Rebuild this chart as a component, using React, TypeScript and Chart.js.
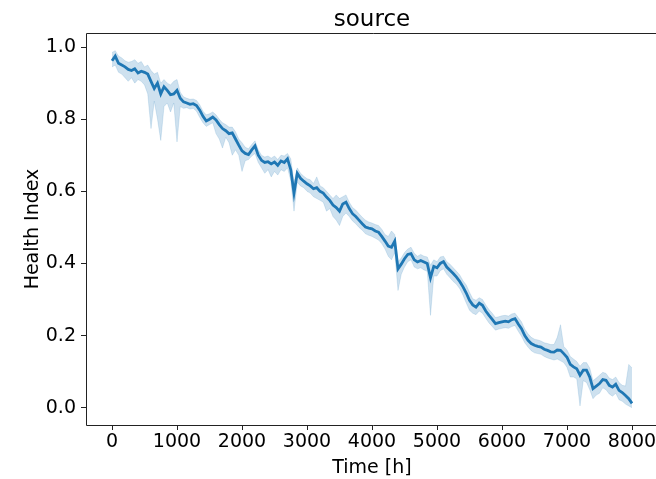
import React, { useEffect, useRef } from "react";
import { Chart, registerables } from "chart.js";

Chart.register(...registerables);

const TITLE = "source";
const X_LABEL = "Time [h]";
const Y_LABEL = "Health Index";

const X_TICKS = [0, 1000, 2000, 3000, 4000, 5000, 6000, 7000, 8000];
const Y_TICKS = [0.0, 0.2, 0.4, 0.6, 0.8, 1.0];

const TIME = [
  0, 50, 100, 150, 200, 250, 300, 350, 400, 450, 500, 550, 600, 650, 700, 750, 800, 850, 900, 950,
  1000, 1050, 1100, 1150, 1200, 1250, 1300, 1350, 1400, 1450, 1500, 1550, 1600, 1650, 1700, 1750, 1800, 1850, 1900, 1950,
  2000, 2050, 2100, 2150, 2200, 2250, 2300, 2350, 2400, 2450, 2500, 2550, 2600, 2650, 2700, 2750, 2800, 2850, 2900, 2950,
  3000, 3050, 3100, 3150, 3200, 3250, 3300, 3350, 3400, 3450, 3500, 3550, 3600, 3650, 3700, 3750, 3800, 3850, 3900, 3950,
  4000, 4050, 4100, 4150, 4200, 4250, 4300, 4350, 4400, 4450, 4500, 4550, 4600, 4650, 4700, 4750, 4800, 4850, 4900, 4950,
  5000, 5050, 5100, 5150, 5200, 5250, 5300, 5350, 5400, 5450, 5500, 5550, 5600, 5650, 5700, 5750, 5800, 5850, 5900, 5950,
  6000, 6050, 6100, 6150, 6200, 6250, 6300, 6350, 6400, 6450, 6500, 6550, 6600, 6650, 6700, 6750, 6800, 6850, 6900, 6950,
  7000, 7050, 7100, 7150, 7200, 7250, 7300, 7350, 7400, 7450, 7500, 7550, 7600, 7650, 7700, 7750, 7800, 7850, 7900, 7950,
  8000,
];

const MEAN = [
  0.962, 0.975, 0.955, 0.95, 0.945, 0.938, 0.935, 0.94, 0.928, 0.933, 0.93, 0.925, 0.905, 0.885, 0.9, 0.87, 0.89, 0.88, 0.868, 0.87,
  0.88, 0.858, 0.848, 0.845, 0.841, 0.843, 0.838, 0.825, 0.808, 0.795, 0.8, 0.806, 0.798, 0.785, 0.774, 0.768, 0.76, 0.762, 0.745, 0.728,
  0.712, 0.705, 0.702, 0.715, 0.726, 0.7, 0.686, 0.68, 0.682, 0.676, 0.681, 0.672, 0.684, 0.68, 0.69, 0.66, 0.595, 0.65, 0.636, 0.628,
  0.621, 0.615, 0.607, 0.61, 0.6, 0.595, 0.584, 0.575, 0.562, 0.555, 0.545, 0.565, 0.57, 0.552, 0.538, 0.53, 0.52, 0.51, 0.501, 0.498,
  0.496, 0.49, 0.487, 0.475, 0.462, 0.448, 0.445, 0.462, 0.385, 0.398, 0.413, 0.425, 0.427, 0.41, 0.404, 0.408, 0.404, 0.4, 0.36, 0.392,
  0.388, 0.4, 0.405, 0.39, 0.381, 0.372, 0.362, 0.35, 0.335, 0.318, 0.298, 0.285, 0.279, 0.29, 0.284, 0.268, 0.256, 0.245, 0.233, 0.236,
  0.238, 0.24, 0.238, 0.244, 0.247, 0.232, 0.219, 0.2, 0.187, 0.178, 0.173, 0.17, 0.168, 0.162, 0.159, 0.155, 0.154, 0.16, 0.159, 0.15,
  0.14, 0.12, 0.113, 0.108, 0.09, 0.104, 0.104, 0.085, 0.053, 0.06, 0.067, 0.078, 0.076, 0.062, 0.057, 0.065, 0.048, 0.042, 0.034, 0.025,
  0.012,
];

const LOWER = [
  0.945, 0.95, 0.93, 0.925, 0.915, 0.905, 0.915, 0.9, 0.91, 0.905, 0.895, 0.87, 0.774, 0.85, 0.8, 0.741, 0.835, 0.845, 0.82, 0.845,
  0.737, 0.835, 0.83, 0.832, 0.828, 0.83, 0.822, 0.805, 0.79, 0.78, 0.785, 0.79, 0.76, 0.745, 0.72, 0.75, 0.735, 0.7, 0.715, 0.7,
  0.655, 0.685, 0.688, 0.698, 0.705, 0.68, 0.665, 0.65, 0.66, 0.64, 0.655, 0.645, 0.66, 0.655, 0.665, 0.63, 0.545, 0.625, 0.615, 0.61,
  0.6, 0.595, 0.585, 0.58, 0.575, 0.57, 0.545, 0.552, 0.53, 0.52, 0.505, 0.53, 0.54, 0.53, 0.518, 0.51, 0.5, 0.492, 0.482, 0.478,
  0.475, 0.47, 0.465, 0.455, 0.44, 0.42, 0.41, 0.43, 0.325, 0.37, 0.39, 0.405, 0.41, 0.39, 0.385, 0.388, 0.382, 0.378, 0.256, 0.365,
  0.365, 0.38, 0.385, 0.37, 0.36, 0.35, 0.342, 0.33, 0.312, 0.29, 0.27, 0.262, 0.258, 0.268, 0.262, 0.248, 0.235, 0.225, 0.215, 0.218,
  0.22, 0.222, 0.22, 0.225, 0.228, 0.212, 0.198, 0.18, 0.168, 0.158, 0.152, 0.15, 0.148, 0.142, 0.138, 0.135, 0.132, 0.135, 0.13, 0.125,
  0.112, 0.085, 0.085, 0.08, 0.005, 0.075, 0.07, 0.05, 0.025, 0.035, 0.04, 0.055, 0.05, 0.038, 0.032, 0.04, 0.022, 0.018, 0.01, 0.005,
  0.0,
];

const UPPER = [
  0.985, 0.99, 0.975, 0.97, 0.962, 0.958, 0.96, 0.965, 0.955, 0.96, 0.945, 0.95, 0.935, 0.925, 0.93, 0.9, 0.91, 0.9, 0.895, 0.905,
  0.91, 0.875, 0.862, 0.858, 0.855, 0.856, 0.852, 0.84, 0.822, 0.812, 0.815, 0.82, 0.812, 0.8, 0.79, 0.785, 0.778, 0.778, 0.765, 0.745,
  0.735, 0.722, 0.718, 0.73, 0.74, 0.715, 0.7, 0.695, 0.698, 0.692, 0.698, 0.688, 0.7, 0.698, 0.705, 0.69, 0.625, 0.665, 0.65, 0.642,
  0.635, 0.632, 0.622, 0.64, 0.615, 0.61, 0.6, 0.59, 0.58, 0.59, 0.58, 0.585, 0.59, 0.57, 0.555, 0.548, 0.538, 0.528, 0.52, 0.515,
  0.512, 0.508, 0.505, 0.495, 0.48, 0.475, 0.49, 0.48, 0.405, 0.415, 0.43, 0.44, 0.445, 0.428, 0.42, 0.425, 0.42, 0.418, 0.395, 0.41,
  0.405, 0.418, 0.42, 0.405, 0.398, 0.388, 0.378, 0.368, 0.352, 0.34, 0.32, 0.302, 0.298, 0.305, 0.3, 0.285, 0.272, 0.262, 0.25, 0.252,
  0.255, 0.256, 0.254, 0.26, 0.262, 0.25, 0.238, 0.218, 0.205, 0.195, 0.19, 0.188, 0.185, 0.18, 0.178, 0.175, 0.175, 0.195, 0.23, 0.17,
  0.16, 0.142, 0.135, 0.128, 0.115, 0.125, 0.125, 0.11, 0.075, 0.082, 0.09, 0.098, 0.095, 0.082, 0.078, 0.085, 0.07, 0.062, 0.06, 0.12,
  0.11,
];

const FONT = "'DejaVu Sans', sans-serif";
const BLUE = "#1f77b4";

const textPlugin = {
  id: "mplTexts",
  afterDraw(chart: any) {
    const { ctx, chartArea, width } = chart;
    const cx = (chartArea.left + chartArea.right) / 2;
    const cy = (chartArea.top + chartArea.bottom) / 2;
    const l = Math.round(chartArea.left) + 0.5;
    const t = Math.round(chartArea.top) + 0.5;
    const b = Math.round(chartArea.bottom) + 0.5;
    ctx.save();
    // frame: left, top, bottom (right spine lies beyond the visible picture)
    ctx.strokeStyle = "#222";
    ctx.lineWidth = 1;
    ctx.beginPath();
    ctx.moveTo(width, t);
    ctx.lineTo(l, t);
    ctx.lineTo(l, b);
    ctx.lineTo(width, b);
    ctx.stroke();
    ctx.fillStyle = "#000";
    ctx.textAlign = "center";
    ctx.textBaseline = "alphabetic";
    ctx.font = `23px ${FONT}`;
    ctx.fillText(TITLE, cx, 26);
    ctx.font = `19px ${FONT}`;
    ctx.fillText(X_LABEL, cx, 473);
    ctx.translate(37.5, cy);
    ctx.rotate(-Math.PI / 2);
    ctx.fillText(Y_LABEL, 0, 0);
    ctx.restore();
  },
};

export default function App() {
  const ref = useRef<HTMLCanvasElement | null>(null);

  useEffect(() => {
    if (!ref.current) return;
    const pts = (ys: number[]) => TIME.map((t, i) => ({ x: t, y: ys[i] }));
    const chart = new Chart(ref.current, {
      type: "line",
      data: {
        datasets: [
          {
            label: "lower",
            data: pts(LOWER),
            borderColor: "rgba(31,119,180,0.15)",
            borderWidth: 1,
            pointRadius: 0,
            fill: false,
            order: 2,
          },
          {
            label: "upper",
            data: pts(UPPER),
            borderColor: "rgba(31,119,180,0.15)",
            borderWidth: 1,
            pointRadius: 0,
            fill: "-1",
            backgroundColor: "rgba(31,119,180,0.22)",
            order: 1,
          },
          {
            label: "mean",
            data: pts(MEAN),
            borderColor: BLUE,
            borderWidth: 2.8,
            pointRadius: 0,
            fill: false,
            order: 0,
          },
        ],
      },
      options: {
        responsive: false,
        animation: false,
        devicePixelRatio: 1,
        layout: { padding: { left: 0, right: 2, top: 33, bottom: 0 } },
        plugins: {
          legend: { display: false },
          title: { display: false },
          tooltip: { enabled: false },
        },
        scales: {
          x: {
            type: "linear",
            min: -400,
            max: 8400,
            afterBuildTicks: (s: any) => {
              s.ticks = X_TICKS.map((v) => ({ value: v }));
            },
            afterFit: (s: any) => {
              s.height = 54;
            },
            border: { display: false },
            grid: {
              drawOnChartArea: false,
              drawTicks: true,
              tickLength: 5,
              color: "#222",
              lineWidth: 1,
            },
            ticks: {
              padding: 1,
              color: "#000",
              font: { family: FONT, size: 19 },
              maxRotation: 0,
              autoSkip: false,
              callback: (v: any) => String(v),
            },
          },
          y: {
            type: "linear",
            min: -0.048,
            max: 1.039,
            afterBuildTicks: (s: any) => {
              s.ticks = Y_TICKS.map((v) => ({ value: v }));
            },
            afterFit: (s: any) => {
              s.width = 86;
            },
            border: { display: false },
            grid: {
              drawOnChartArea: false,
              drawTicks: true,
              tickLength: 5,
              color: "#222",
              lineWidth: 1,
            },
            ticks: {
              padding: 5,
              color: "#000",
              font: { family: FONT, size: 19 },
              autoSkip: false,
              callback: (v: any) => Number(v).toFixed(1),
            },
          },
        },
      },
      plugins: [textPlugin],
    });
    return () => chart.destroy();
  }, []);

  return (
    <div style={{ position: "fixed", left: 0, top: 0, width: 660, height: 479, background: "#fff" }}>
      <canvas ref={ref} width={660} height={479} style={{ display: "block", width: 660, height: 479 }} />
    </div>
  );
}
